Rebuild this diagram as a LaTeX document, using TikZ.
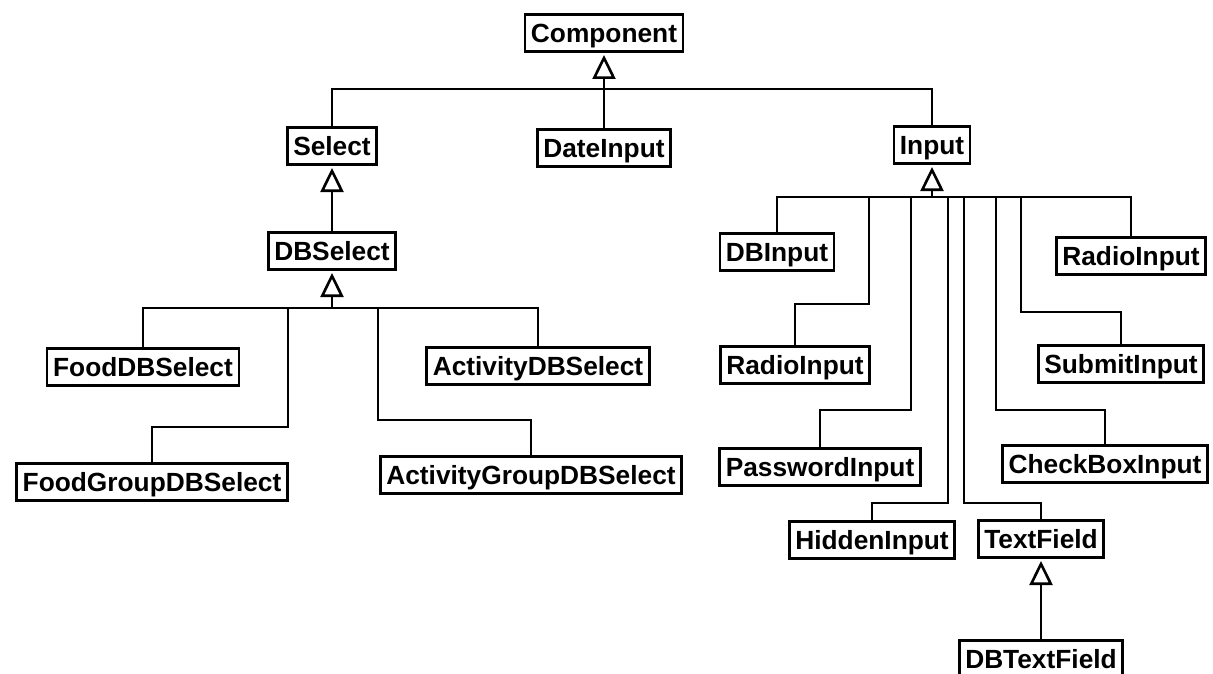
\documentclass[tikz,border=0pt]{standalone}
\usepackage{fontspec}
\setmainfont{Liberation Sans}
\usetikzlibrary{arrows.meta, positioning, calc}

\begin{document}
\begin{tikzpicture}[
    x=1pt, y=-1pt,
    classBox/.style={draw, line width=2.6pt, fill=white, inner xsep=6pt, inner ysep=0pt,
        minimum height=37.4pt, text height=19pt, text depth=0pt,
        font=\bfseries\fontsize{26.3}{30}\selectfont},
    link/.style={draw, line width=2.6pt},
    inherit/.style={link, {Triangle[open, length=24pt, width=23pt]}-, shorten <=2pt}
]
    \useasboundingbox (0,0) rectangle (1213,674);
    \clip (0,0) rectangle (1213,674);

    % Top of the hierarchy
    \node (comp) [classBox] at (604,33) {Component};
    \node (date) [classBox] at (604,148) {DateInput};
    \node (sel) [classBox] at (332,146) {Select};
    \node (inp) [classBox] at (932,145) {Input};

    % Select branch
    \node (dbsel) [classBox] at (332,251) {DBSelect};
    \node (fooddb) [classBox] at (143,367) {FoodDBSelect};
    \node (foodgrp) [classBox] at (152,482) {FoodGroupDBSelect};
    \node (actdb) [classBox] at (538,366) {ActivityDBSelect};
    \node (actgrp) [classBox] at (531,475) {ActivityGroupDBSelect};

    % Input branch
    \node (dbinp) [classBox] at (777,252) {DBInput};
    \node (radioA) [classBox] at (795,365) {RadioInput};
    \node (passwd) [classBox] at (820,467) {PasswordInput};
    \node (hidden) [classBox] at (872,540) {HiddenInput};
    \node (textfld) [classBox] at (1041,539) {TextField};
    \node (checkbox) [classBox] at (1105,464) {CheckBoxInput};
    \node (submit) [classBox] at (1121,364) {SubmitInput};
    \node (radioB) [classBox] at (1131,256) {RadioInput};
    \node (dbtext) [classBox] at (1041,659) {DBTextField};

    % Bars and knees
    \coordinate (compBar) at (604,89);
    \coordinate (dbselBar) at (332,308);
    \coordinate (inpBar) at (932,197);
    \coordinate (fgKnee) at (288,427);
    \coordinate (agKnee) at (378,420);
    \coordinate (raKnee) at (869,304);
    \coordinate (pwKnee) at (911,410);
    \coordinate (hiKnee) at (948,503);
    \coordinate (tfKnee) at (964,503);
    \coordinate (cbKnee) at (996,410);
    \coordinate (siKnee) at (1021,312);

    % Component children
    \draw [inherit] (comp.south) -- (date.north);
    \draw [link] (sel.north) |- (compBar) -| (inp.north);

    % Select children
    \draw [inherit] (sel.south) -- (dbsel.north);
    \draw [inherit] (dbsel.south) -- (dbselBar);
    \draw [link] (fooddb.north) |- (dbselBar) -| (actdb.north);
    \draw [link] (fgKnee |- dbselBar) -- (fgKnee) -| (foodgrp.north);
    \draw [link] (agKnee |- dbselBar) -- (agKnee) -| (actgrp.north);

    % Input children
    \draw [inherit] (inp.south) -- (inpBar);
    \draw [link] (dbinp.north) |- (inpBar) -| (radioB.north);
    \draw [link] (raKnee |- inpBar) -- (raKnee) -| (radioA.north);
    \draw [link] (pwKnee |- inpBar) -- (pwKnee) -| (passwd.north);
    \draw [link] (hiKnee |- inpBar) -- (hiKnee) -| (hidden.north);
    \draw [link] (tfKnee |- inpBar) -- (tfKnee) -| (textfld.north);
    \draw [link] (cbKnee |- inpBar) -- (cbKnee) -| (checkbox.north);
    \draw [link] (siKnee |- inpBar) -- (siKnee) -| (submit.north);
    \draw [inherit] (textfld.south) -- (dbtext.north);
\end{tikzpicture}
\end{document}
